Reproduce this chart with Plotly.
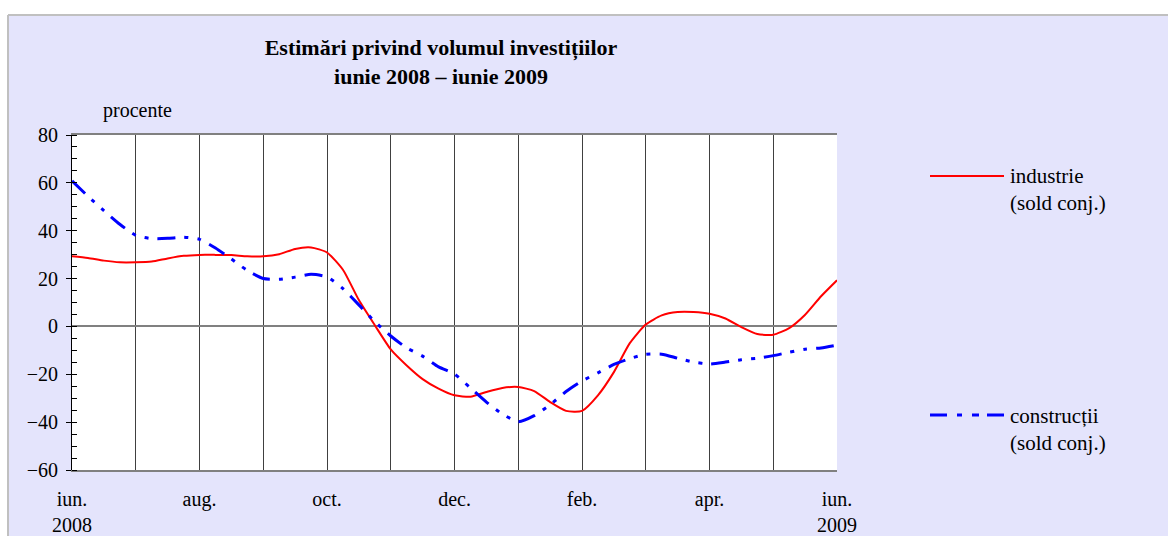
import plotly.graph_objects as go

# ---------------- data ----------------
# x position in months from June 2008 (0) to June 2009 (12), read every quarter month
month_pos = [0, 0.25, 0.5, 0.75, 1, 1.25, 1.5, 1.75, 2, 2.25, 2.5, 2.75,
             3, 3.25, 3.5, 3.75, 4, 4.25, 4.5, 4.75, 5, 5.25, 5.5, 5.75,
             6, 6.25, 6.5, 6.75, 7, 7.25, 7.5, 7.75, 8, 8.25, 8.5, 8.75,
             9, 9.25, 9.5, 9.75, 10, 10.25, 10.5, 10.75, 11, 11.25, 11.5, 11.75, 12]

industrie = [29.3, 28.6, 27.5, 26.8, 26.8, 27.1, 28.4, 29.5, 29.9, 29.9, 29.8, 29.3,
             29.3, 30.2, 32.4, 33.0, 30.9, 23.7, 11.0, 0.5, -9.6, -16.3, -22.0, -26.0,
             -28.8, -29.4, -27.4, -25.7, -25.3, -27.0, -31.6, -35.3, -35.3, -28.8, -19.1, -7.0,
             0.8, 4.6, 6.0, 6.0, 5.3, 3.3, -0.3, -3.2, -3.5, -0.7, 4.9, 12.6, 19.3]

constructii = [60.8, 54.4, 48.4, 42.7, 38.1, 36.7, 36.8, 37.3, 36.4, 32.8, 28.2, 23.4,
               20.0, 19.7, 20.6, 21.8, 20.7, 15.8, 9.0, 2.0, -4.0, -9.0, -12.4, -16.9,
               -19.9, -25.7, -31.6, -36.6, -39.8, -37.3, -32.7, -27.2, -22.8, -19.4, -15.9, -13.4,
               -11.7, -11.6, -13.3, -14.9, -15.7, -14.9, -13.9, -13.3, -12.2, -10.8, -9.5, -9.0, -7.8]

tick_months = [0, 1, 2, 3, 4, 5, 6, 7, 8, 9, 10, 11, 12]
tick_labels = ["iun.<br>2008", "", "aug.", "", "oct.", "", "dec.", "", "feb.", "", "apr.", "", "iun.<br>2009"]

title_text = "<b>Estimări privind volumul investițiilor<br>iunie 2008 – iunie 2009</b>"
unit_text = "procente"
legend_industrie = "industrie<br>(sold conj.)"
legend_constructii = "construcții<br>(sold conj.)"

# ---------------- layout geometry ----------------
W, H = 1168, 536
L, R, T, B = 72, 331, 135, 66
PW, PH = W - L - R, H - T - B

def px(x):
    return (x - L) / PW

def py(y):
    return (H - B - y) / PH

FONT = "Liberation Serif, Times New Roman, serif"
BG = "#E4E4FC"
RED = "#FF0000"
BLUE = "#0000FF"
DASH = "18px,9px,4px,9px,4px,9px"

fig = go.Figure()
fig.add_trace(go.Scatter(x=month_pos, y=industrie, mode="lines", name="industrie (sold conj.)",
                         line=dict(color=RED, width=2, shape="spline", smoothing=0.6),
                         showlegend=False))
fig.add_trace(go.Scatter(x=month_pos, y=constructii, mode="lines", name="construcții (sold conj.)",
                         line=dict(color=BLUE, width=3, shape="spline", smoothing=0.6, dash=DASH),
                         showlegend=False))

shapes = [
    # white strip above the chart frame
    dict(type="rect", xref="paper", yref="paper", x0=px(-10), x1=px(W + 10), y0=py(15), y1=py(-10),
         fillcolor="white", line=dict(width=0), layer="below"),
    # white strip left of the chart frame
    dict(type="rect", xref="paper", yref="paper", x0=px(-10), x1=px(8), y0=py(H + 10), y1=py(-10),
         fillcolor="white", line=dict(width=0), layer="below"),
    # frame border
    dict(type="line", xref="paper", yref="paper", x0=px(8), x1=px(W + 10), y0=py(15), y1=py(15),
         line=dict(color="#C0C0C0", width=2), layer="below"),
    dict(type="line", xref="paper", yref="paper", x0=px(8), x1=px(8), y0=py(15), y1=py(H + 10),
         line=dict(color="#C0C0C0", width=2), layer="below"),
    # legend swatches
    dict(type="line", xref="paper", yref="paper", x0=px(930), x1=px(1004), y0=py(176), y1=py(176),
         line=dict(color=RED, width=2)),
    dict(type="line", xref="paper", yref="paper", x0=px(930), x1=px(1004), y0=py(415), y1=py(415),
         line=dict(color=BLUE, width=3, dash="17px,10px,5px,10px,7px,8px,17px")),
]

annotations = [
    dict(text=unit_text, xref="paper", yref="paper", x=px(137), y=py(110), showarrow=False,
         xanchor="center", yanchor="middle", font=dict(family=FONT, size=20, color="black")),
    dict(text=legend_industrie, xref="paper", yref="paper", x=px(1008), y=py(162), showarrow=False,
         xanchor="left", yanchor="top", align="left", font=dict(family=FONT, size=21, color="black")),
    dict(text=legend_constructii, xref="paper", yref="paper", x=px(1008), y=py(402), showarrow=False,
         xanchor="left", yanchor="top", align="left", font=dict(family=FONT, size=21, color="black")),
]

fig.update_layout(
    width=W, height=H,
    margin=dict(l=L, r=R, t=T, b=B, pad=0, autoexpand=False),
    paper_bgcolor=BG,
    plot_bgcolor="white",
    title=dict(text=title_text, x=441 / W, xanchor="center", y=1 - 55 / H, yanchor="top",
               font=dict(family=FONT, size=22, color="black"), automargin=False),
    shapes=shapes,
    annotations=annotations,
    showlegend=False,
    xaxis=dict(range=[0, 12], tickmode="array", tickvals=tick_months, ticktext=tick_labels,
               showgrid=True, gridcolor="#404040", gridwidth=1, automargin=False,
               showline=True, linecolor="#808080", linewidth=2, mirror=True,
               ticks="", ticklabelstandoff=10, zeroline=False,
               tickfont=dict(family=FONT, size=20, color="black")),
    yaxis=dict(range=[-60, 80], tickmode="linear", tick0=0, dtick=20, automargin=False,
               showgrid=False, zeroline=True, zerolinecolor="#808080", zerolinewidth=2,
               showline=True, linecolor="black", linewidth=1,
               ticks="outside", ticklen=5, tickcolor="black", tickwidth=1,
               ticklabelstandoff=4,
               minor=dict(ticks="inside", ticklen=5, dtick=5, tickcolor="black", tickwidth=1, showgrid=False),
               tickfont=dict(family=FONT, size=20, color="black")),
)

fig.write_html("out.html", config={"displayModeBar": False},
               post_script="document.body.style.margin='0px';document.body.style.padding='0px';document.body.style.overflow='hidden';")
